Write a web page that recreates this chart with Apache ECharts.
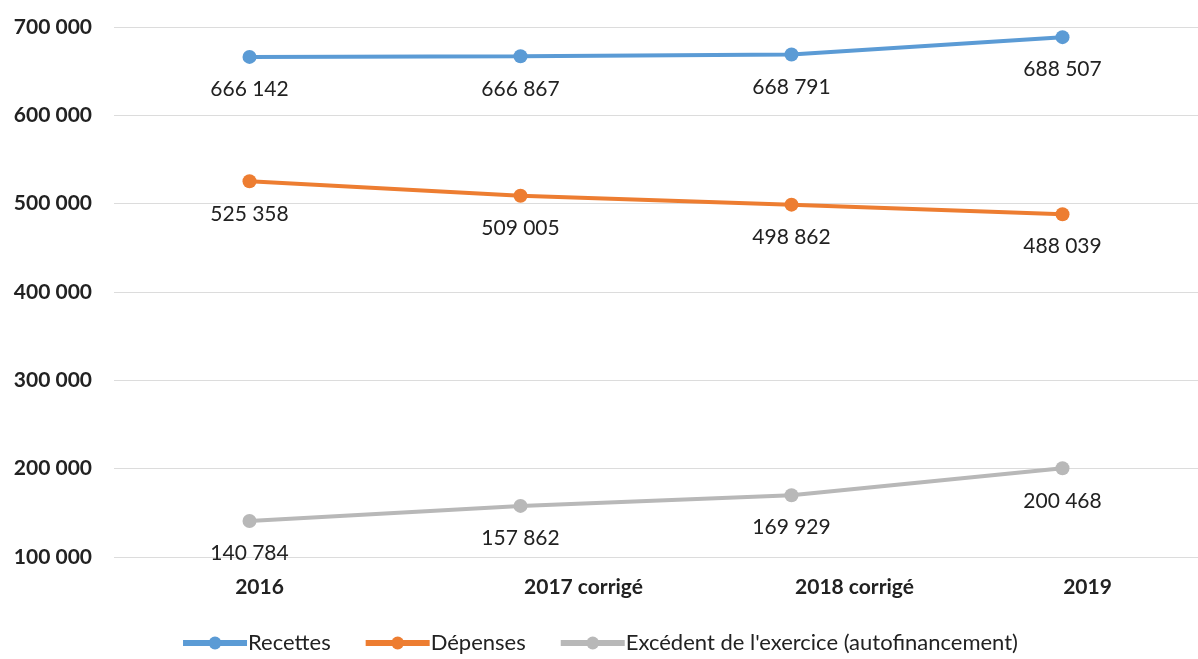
<!DOCTYPE html>
<html>
<head>
<meta charset="utf-8">
<script src="https://cdn.jsdelivr.net/npm/echarts@6/dist/echarts.min.js"></script>
<style>
html,body{margin:0;padding:0;background:#fff;}
#chart{width:1198px;height:659px;}
</style>
</head>
<body>
<div id="chart"></div>
<script>
const categories = ['2016', '2017 corrigé', '2018 corrigé', '2019'];
const recettes = [666142, 666867, 668791, 688507];
const depenses = [525358, 509005, 498862, 488039];
const excedent = [140784, 157862, 169929, 200468];
const seriesNames = ['Recettes', 'Dépenses', "Excédent de l'exercice (autofinancement)"];
const labelShift = [20, 126, 126, 50];

function fmt(v) {
  return String(v).replace(/\B(?=(\d{3})+(?!\d))/g, ' ');
}

const chart = echarts.init(document.getElementById('chart'));
const font = 'Lato';
function mkSeries(name, data, color) {
  return {
    name: name,
    type: 'line',
    data: data,
    symbol: 'circle',
    symbolSize: 14,
    lineStyle: { width: 4, color: color },
    itemStyle: { color: color },
    label: {
      show: true,
      position: 'bottom',
      distance: 15,
      color: '#222',
      fontFamily: font,
      fontSize: 21,
      formatter: p => fmt(p.value)
    },
    animation: false
  };
}
const rich = {};
labelShift.forEach((s, i) => {
  rich['c' + i] = { fontFamily: font, fontSize: 21, fontWeight: 'bold', color: '#222', padding: [0, 0, 0, s] };
});
chart.setOption({
  animation: false,
  grid: { left: 114, width: 1093, top: 27, bottom: 102, containLabel: false },
  legend: {
    bottom: 0,
    left: 'center',
    itemWidth: 64,
    itemHeight: 16,
    itemGap: 32,
    lineStyle: { width: 6 },
    textStyle: { fontFamily: font, fontSize: 22, color: '#222', padding: [0, 0, 0, -4] },
    data: seriesNames
  },
  xAxis: {
    type: 'category',
    data: categories,
    boundaryGap: true,
    axisLine: { show: false },
    axisTick: { show: false },
    axisLabel: {
      margin: 20,
      formatter: (v, i) => '{c' + i + '|' + v + '}',
      rich: rich
    }
  },
  yAxis: {
    type: 'value',
    min: 100000,
    max: 700000,
    interval: 100000,
    axisLine: { show: false },
    axisTick: { show: false },
    splitLine: { lineStyle: { color: '#dcdcdc', width: 1 } },
    axisLabel: {
      margin: 22,
      fontFamily: font,
      fontSize: 21,
      fontWeight: 'bold',
      color: '#222',
      formatter: v => fmt(v)
    }
  },
  series: [
    mkSeries(seriesNames[0], recettes, '#5B9BD5'),
    mkSeries(seriesNames[1], depenses, '#ED7D31'),
    mkSeries(seriesNames[2], excedent, '#B8B8B8')
  ]
});
</script>
</body>
</html>
